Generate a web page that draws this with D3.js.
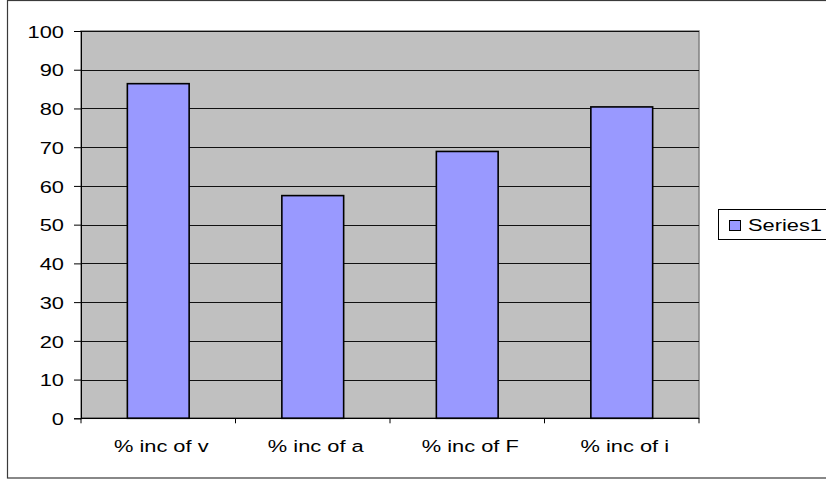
<!DOCTYPE html>
<html><head><meta charset="utf-8">
<script src="https://cdn.jsdelivr.net/npm/d3@7"></script>
<style>body{margin:0;background:#fff}svg{display:block}text{font-family:"Liberation Sans",Arial,sans-serif}</style>
</head><body><svg id="c" width="826" height="479"></svg>
<script>
const categories = ["% inc of v", "% inc of a", "% inc of F", "% inc of i"];
const values = [86.4, 57.5, 68.9, 80.4];
const yTicks = [0, 10, 20, 30, 40, 50, 60, 70, 80, 90, 100];
const seriesName = "Series1";

const svg = d3.select("#c");
const L = 81, R = 699, T = 31, B = 418.3;
const stretch = 1.27, fs = 17.2;

// outer chart border
svg.append("rect").attr("x", 7.5).attr("y", 0.5).attr("width", 840).attr("height", 477.5)
  .attr("fill", "#fff").attr("stroke", "#3a3a3a").attr("stroke-width", 1.2);

const x = d3.scaleBand().domain(categories).range([L, R]).padding(0);
const y = d3.scaleLinear().domain([0, 100]).range([B, T]);

// plot area
svg.append("rect").attr("x", L).attr("y", T).attr("width", R - L).attr("height", B - T)
  .attr("fill", "#c0c0c0").attr("stroke", "#808080").attr("stroke-width", 1.5);

// gridlines
svg.append("g").selectAll("line").data(yTicks.filter(d => d > 0)).join("line")
  .attr("x1", L).attr("x2", R).attr("y1", d => Math.round(y(d)) + 0.5).attr("y2", d => Math.round(y(d)) + 0.5)
  .attr("stroke", "#111").attr("stroke-width", 1);

// bars
const bw = x.bandwidth() * 0.4;
svg.append("g").selectAll("rect").data(values).join("rect")
  .attr("x", (d, i) => x(categories[i]) + (x.bandwidth() - bw) / 2)
  .attr("y", d => y(d))
  .attr("width", bw).attr("height", d => y(0) - y(d))
  .attr("fill", "#9999ff").attr("stroke", "#000").attr("stroke-width", 1.6);

// y axis
const yAxis = svg.append("g").attr("transform", `translate(${L},0)`)
  .call(d3.axisLeft(y).tickValues(yTicks).tickSize(7).tickPadding(0).tickFormat(d3.format("d")));
yAxis.select(".domain").attr("stroke", "#000");
yAxis.selectAll(".tick line").attr("stroke", "#000");
yAxis.selectAll(".tick text").attr("font-size", fs).attr("fill", "#000")
  .attr("x", null).attr("dy", "0.36em")
  .attr("transform", `translate(-17,0) scale(${stretch},1)`);

// x axis
const xb = d3.scaleLinear().domain([0, categories.length]).range([L, R]);
const xAxis = svg.append("g").attr("transform", `translate(0,${B})`);
xAxis.append("line").attr("x1", L).attr("x2", R).attr("stroke", "#000").attr("stroke-width", 1.2);
xAxis.selectAll("line.t").data(d3.range(categories.length + 1)).join("line").attr("class", "t")
  .attr("x1", d => xb(d)).attr("x2", d => xb(d)).attr("y1", 0).attr("y2", 5).attr("stroke", "#000");
xAxis.selectAll("text").data(categories).join("text")
  .attr("transform", d => `translate(${x(d) + x.bandwidth() / 2 + 3},34) scale(${stretch},1)`)
  .attr("text-anchor", "middle").attr("font-size", fs).attr("fill", "#000").text(d => d);

// legend
const lg = svg.append("g");
lg.append("rect").attr("x", 718.5).attr("y", 209.5).attr("width", 130).attr("height", 30)
  .attr("fill", "#fff").attr("stroke", "#000");
lg.append("rect").attr("x", 729.5).attr("y", 220.5).attr("width", 11).attr("height", 10)
  .attr("fill", "#9999ff").attr("stroke", "#000");
lg.append("text").attr("transform", `translate(748,231) scale(${stretch},1)`)
  .attr("font-size", fs).attr("fill", "#000").text(seriesName);
</script></body></html>
